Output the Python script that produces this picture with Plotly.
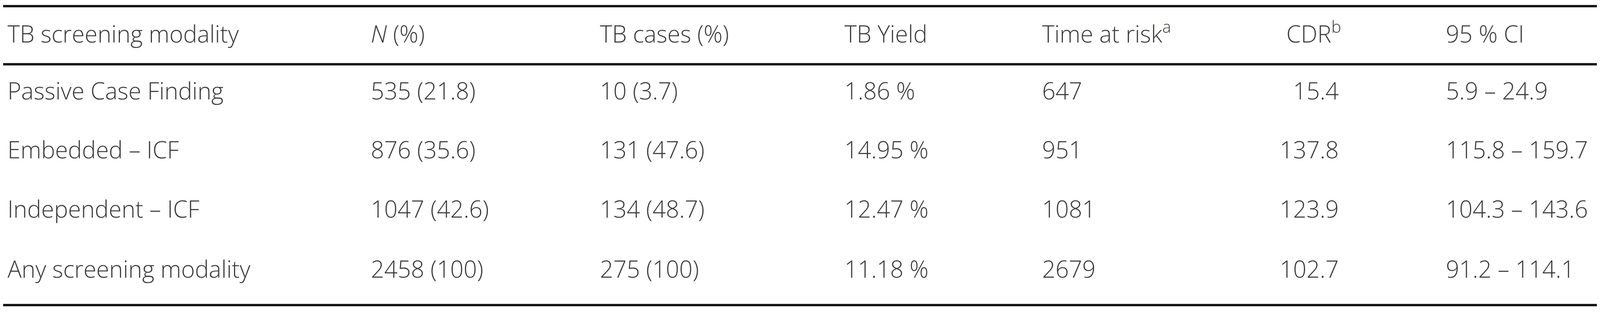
import plotly.graph_objects as go

headers = ["TB screening modality", "<i>N</i> (%)", "TB cases (%)", "TB Yield",
           "Time at risk<sup>a</sup>", "CDR<sup>b</sup>", "95 % CI"]
modality = ["Passive Case Finding", "Embedded \u2013 ICF", "Independent \u2013 ICF", "Any screening modality"]
n_pct = ["535 (21.8)", "876 (35.6)", "1047 (42.6)", "2458 (100)"]
tb_cases = ["10 (3.7)", "131 (47.6)", "134 (48.7)", "275 (100)"]
tb_yield = ["1.86 %", "14.95 %", "12.47 %", "11.18 %"]
time_at_risk = ["647", "951", "1081", "2679"]
cdr = ["15.4", "137.8", "123.9", "102.7"]
ci95 = ["5.9 \u2013 24.9", "115.8 \u2013 159.7", "104.3 \u2013 143.6", "91.2 \u2013 114.1"]

columns = [modality, n_pct, tb_cases, tb_yield, time_at_risk, cdr, ci95]
col_x = [15, 1254, 2035, 2869, 3543, 4555, 4920]
header_y = 88
row_y = [237, 391, 546, 703]

font = dict(family="Open Sans", size=60, color="#3a3a3a", weight=300)

fig = go.Figure()
for i, (col, x) in enumerate(zip(columns, col_x)):
    pos = "middle left" if i == 5 else "middle right"
    fig.add_trace(go.Scatter(x=[x] * len(col), y=row_y, text=col, mode="text",
                             textposition=pos, textfont=font, showlegend=False))
    hx = 4376 if i == 5 else x
    fig.add_trace(go.Scatter(x=[hx], y=[header_y], text=[headers[i]], mode="text",
                             textposition="middle right", textfont=font, showlegend=False))

for y in [8, 160, 790]:
    fig.add_shape(type="line", x0=0, x1=5435, y0=y, y1=y, line=dict(color="#111", width=6))

fig.update_layout(autosize=True, margin=dict(l=0, r=0, t=0, b=0),
                  plot_bgcolor="white", paper_bgcolor="white",
                  xaxis=dict(range=[0, 5435], visible=False, fixedrange=True),
                  yaxis=dict(range=[800, 0], visible=False, fixedrange=True))
fig.write_html("out.html", config=dict(responsive=True))
